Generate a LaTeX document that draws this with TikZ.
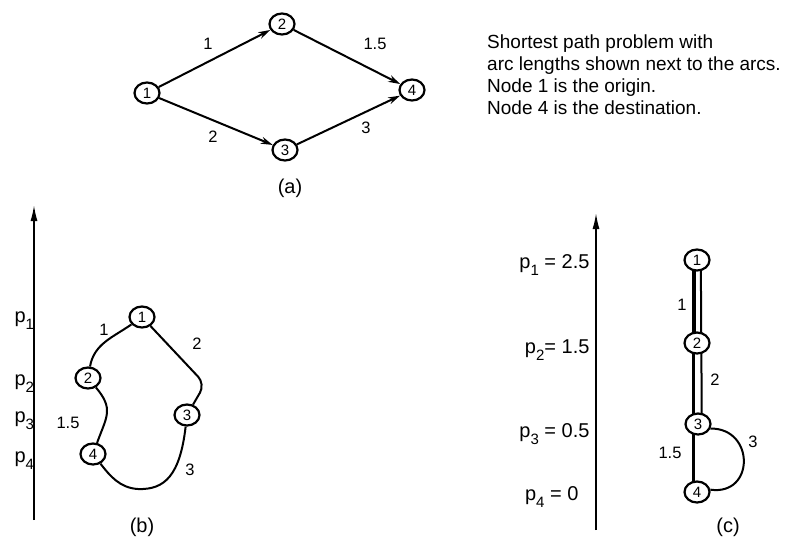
\documentclass[tikz,border=0pt]{standalone}
\usepackage{fontspec}
\setmainfont{Liberation Sans}
\usetikzlibrary{arrows.meta,shapes.geometric,backgrounds}

\tikzset{
  vnode/.style={ellipse, draw, fill=white, line width=2.2pt, minimum width=25pt, minimum height=21pt, inner sep=0pt, font=\fontsize{15}{15}\selectfont},
  arc/.style={line width=2pt},
  darc/.style={arc, -{Stealth[length=12pt,width=7pt]}},
  alabel/.style={font=\fontsize{16.5}{16.5}\selectfont},
  caption/.style={font=\fontsize{20}{20}\selectfont},
  plabel/.style={font=\fontsize{20}{20}\selectfont},
  axis/.style={line width=1.6pt, -{Latex[length=16pt,width=7pt]}},
}
\newcommand{\psub}[1]{p\raisebox{-7pt}{\fontsize{15}{15}\selectfont #1}}

\begin{document}
\begin{tikzpicture}[x=1pt, y=-1pt]
\useasboundingbox (0,0) rectangle (792,542);

  \node[vnode] at (147,93) (a1) {1};
  \node[vnode] at (282,24) (a2) {2};
  \node[vnode] at (285,150) (a3) {3};
  \node[vnode] at (412,90) (a4) {4};
  \draw[darc] (a1) -- (a2);
  \draw[darc] (a1) -- (a3);
  \draw[darc] (a2) -- (a4);
  \draw[darc] (a3) -- (a4);
  \node[alabel] at (208,44) (la12) {1};
  \node[alabel] at (375,44) (la24) {1.5};
  \node[alabel] at (213,137) (la13) {2};
  \node[alabel] at (366,128) (la34) {3};
  \node[caption] at (290,188) (capa) {(a)};
  \node[anchor=north west, align=left, inner sep=0pt, font=\fontsize{19}{22}\selectfont] at (487,35) (note)
    {Shortest path problem with\\arc lengths shown next to the arcs.\\Node 1 is the origin.\\Node 4 is the destination.};

  \coordinate (bax0) at (34,520);
  \coordinate (bax1) at (34,205);
  \draw[axis] (bax0) -- (bax1);
  \node[plabel, anchor=base west] at (11,322) (bp1) {\psub{1}};
  \node[plabel, anchor=base west] at (11,385) (bp2) {\psub{2}};
  \node[plabel, anchor=base west] at (11,422) (bp3) {\psub{3}};
  \node[plabel, anchor=base west] at (11,462) (bp4) {\psub{4}};
  \node[vnode] at (142,317) (b1) {1};
  \node[vnode] at (88,378) (b2) {2};
  \node[vnode] at (187,415) (b3) {3};
  \node[vnode] at (93,454) (b4) {4};
  \coordinate (b13) at (205,384);
  \coordinate (b34) at (138,489);
  \draw[arc] (b1) to[out=215, in=80] (b2);
  \draw[arc] (b2) to[out=-50, in=70, looseness=1.3] (b4);
  \draw[arc, rounded corners=10pt] (b1) -- (b13) -- (b3);
  \draw[arc] (b3) .. controls (180,475) and (165,490) .. (b34) .. controls (120,488) and (110,476) .. (b4);
  \node[alabel] at (104,330) (lb12) {1};
  \node[alabel] at (197,344) (lb13) {2};
  \node[alabel] at (68,423) (lb24) {1.5};
  \node[alabel] at (190,470) (lb34) {3};
  \node[caption] at (142,527) (capb) {(b)};

  \coordinate (cax0) at (596,530);
  \coordinate (cax1) at (596,213);
  \draw[axis] (cax0) -- (cax1);
  \node[plabel, anchor=base east] at (593,268) (cp1) {\psub{1} = 2.5};
  \node[plabel, anchor=base east] at (593,353) (cp2) {\psub{2}= 1.5};
  \node[plabel, anchor=base east] at (593,437) (cp3) {\psub{3} = 0.5};
  \node[plabel, anchor=base east] at (582,500) (cp4) {\psub{4} = 0};
  \node[vnode] at (697,260) (c1) {1};
  \node[vnode] at (697,343) (c2) {2};
  \node[vnode] at (698,424) (c3) {3};
  \node[vnode] at (697,492) (c4) {4};
  \begin{scope}[on background layer]
    \draw[line width=4pt] ([xshift=-3.5pt]c1.center) -- ([xshift=-3.5pt]c2.center);
    \draw[line width=2.2pt] ([xshift=-3.5pt]c2.center) -- ([xshift=-3.5pt]c4.center);
    \draw[line width=2pt] ([xshift=3.8pt]c1.center) -- ([xshift=3.8pt]c3.center);
  \end{scope}
  \draw[arc] (c3.-20) .. controls (755,428) and (755,496) .. (c4.10);
  \node[alabel] at (682,305) (lc12) {1};
  \node[alabel] at (715,380) (lc13) {2};
  \node[alabel] at (670,453) (lc24) {1.5};
  \node[alabel] at (753,442) (lc34) {3};
  \node[caption] at (728,527) (capc) {(c)};
\end{tikzpicture}
\end{document}
